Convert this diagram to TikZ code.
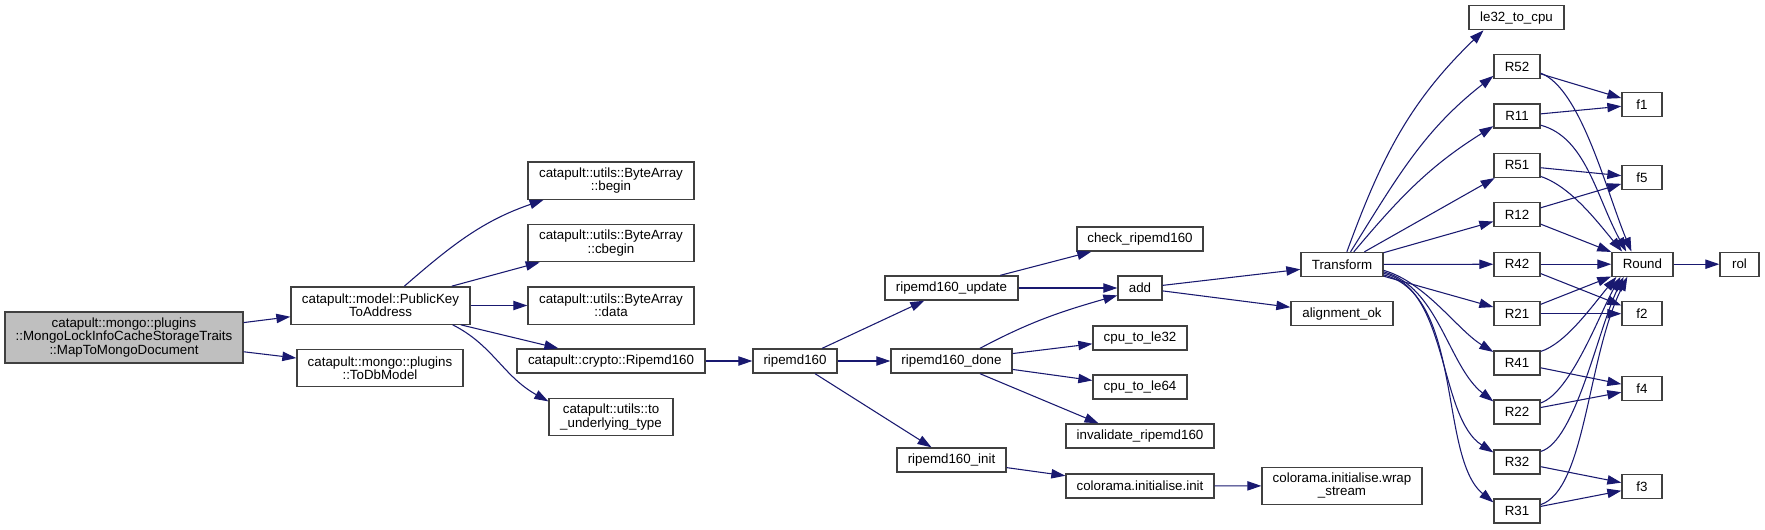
\documentclass[tikz,border=0pt]{standalone}
\usepackage{fontspec}
\setmainfont{Liberation Sans}
\usetikzlibrary{arrows.meta}
\definecolor{edgeblue}{HTML}{191970}
\definecolor{boxline}{HTML}{404040}
\definecolor{boxfill}{HTML}{BFBFBF}

\begin{document}
\begin{tikzpicture}[x=0.75pt, y=-0.75pt,
    fn/.style={draw=boxline, line width=1pt, fill=white, inner sep=0pt, minimum height=18pt, align=center, font=\fontsize{10}{10}\selectfont},
    fntwo/.style={fn, minimum height=28pt},
    call/.style={draw=edgeblue, line width=0.8pt, -{Triangle[length=10.5pt, width=7pt]}}]
    \path[use as bounding box, fill=white] (0,0) rectangle (1765,529);

    \node[fn, fill=boxfill, minimum width=178.5pt, minimum height=38.25pt] (main) at (124,337.5) {catapult::mongo::plugins\\::MongoLockInfoCacheStorageTraits\\::MapToMongoDocument};
    \node[fntwo, minimum width=134.25pt] (pk) at (380.5,305.5) {catapult::model::PublicKey\\ToAddress};
    \node[fntwo, minimum width=124.5pt] (todb) at (380,368) {catapult::mongo::plugins\\::ToDbModel};

    \node[fntwo, minimum width=124.5pt] (begin) at (611,180.5) {catapult::utils::ByteArray\\::begin};
    \node[fntwo, minimum width=124.5pt] (cbegin) at (611,243) {catapult::utils::ByteArray\\::cbegin};
    \node[fntwo, minimum width=124.5pt] (bdata) at (611,305.5) {catapult::utils::ByteArray\\::data};
    \node[fn, minimum width=141pt] (crip) at (611,361) {catapult::crypto::Ripemd160};
    \node[fntwo, minimum width=93pt] (tut) at (611,417) {catapult::utils::to\\\_underlying\_type};

    \node[fn, minimum width=63pt] (rmd) at (795,361) {ripemd160};
    \node[fn, minimum width=99.75pt] (rupd) at (951.5,288) {ripemd160\_update};
    \node[fn, minimum width=90.75pt] (rdone) at (951.5,361) {ripemd160\_done};
    \node[fn, minimum width=81.75pt] (rinit) at (951.5,460) {ripemd160\_init};

    \node[fn, minimum width=94.5pt] (check) at (1140,239) {check\_ripemd160};
    \node[fn, minimum width=33pt] (add) at (1140,288) {add};
    \node[fn, minimum width=70.5pt] (le32) at (1140,338) {cpu\_to\_le32};
    \node[fn, minimum width=70.5pt] (le64) at (1140,387) {cpu\_to\_le64};
    \node[fn, minimum width=111pt] (inval) at (1140,436) {invalidate\_ripemd160};
    \node[fn, minimum width=111pt] (cinit) at (1140,486) {colorama.initialise.init};

    \node[fn, minimum width=61.5pt] (trans) at (1342,264.5) {Transform};
    \node[fn, minimum width=76.5pt] (alignok) at (1342,313.8) {alignment\_ok};
    \node[fntwo, minimum width=120pt, minimum height=27.75pt] (wrap) at (1342,485.8) {colorama.initialise.wrap\\\_stream};

    \node[fn, minimum width=71.25pt] (l2c) at (1516.5,17.7) {le32\_to\_cpu};
    \node[fn, minimum width=34.5pt] (r52) at (1517,66.8) {R52};
    \node[fn, minimum width=34.5pt] (r11) at (1517,116.1) {R11};
    \node[fn, minimum width=34.5pt] (r51) at (1517,165.4) {R51};
    \node[fn, minimum width=34.5pt] (r12) at (1517,214.8) {R12};
    \node[fn, minimum width=34.5pt] (r42) at (1517,264.2) {R42};
    \node[fn, minimum width=34.5pt] (r21) at (1517,313.7) {R21};
    \node[fn, minimum width=34.5pt] (r41) at (1517,363) {R41};
    \node[fn, minimum width=34.5pt] (r22) at (1517,412) {R22};
    \node[fn, minimum width=34.5pt] (r32) at (1517,462) {R32};
    \node[fn, minimum width=34.5pt] (r31) at (1517,511) {R31};

    \node[fn, minimum width=30pt] (f1) at (1642,104.3) {f1};
    \node[fn, minimum width=30pt] (f5) at (1642,177.7) {f5};
    \node[fn, minimum width=45.75pt] (round) at (1642.4,264.2) {Round};
    \node[fn, minimum width=30pt] (f2) at (1642,313.7) {f2};
    \node[fn, minimum width=30pt] (f4) at (1642,388.3) {f4};
    \node[fn, minimum width=30pt] (f3) at (1642,486.7) {f3};
    \node[fn, minimum width=29.25pt] (rol) at (1739.5,264.2) {rol};

    \draw[call] (main) -- (pk);
    \draw[call] (main) -- (todb);

    \draw[call] (pk.39) to[out=41, in=199] (begin.196);
    \draw[call] (pk) -- (cbegin);
    \draw[call] (pk) -- (bdata);
    \draw[call] (pk) -- (crip);
    \draw[call] (pk.-15) .. controls +(40,20) and +(-45,-25) .. (tut.166);

    \draw[call] (crip) -- (rmd);
    \draw[call] (rmd) -- (rupd);
    \draw[call] (rmd) -- (rdone);
    \draw[call] (rmd) -- (rinit);

    \draw[call] (rupd) -- (check);
    \draw[call] (rupd) -- (add);
    \draw[call] (rdone.24) to[out=28, in=196] (add.198);
    \draw[call] (rdone) -- (le32);
    \draw[call] (rdone) -- (le64);
    \draw[call] (rdone.-24) -- (inval.163);
    \draw[call] (rinit) -- (cinit);
    \draw[call] (cinit) -- (wrap);

    \draw[call] (add) -- (trans);
    \draw[call] (add) -- (alignok);

    \draw[call] (trans.69) to[out=70, in=224] (l2c.201);
    \draw[call] (trans.56) to[out=58, in=218] (r52.201);
    \draw[call] (trans.47) to[out=50, in=212] (r11.203);
    \draw[call] (trans) -- (r51);
    \draw[call] (trans) -- (r12);
    \draw[call] (trans) -- (r42);
    \draw[call] (trans) -- (r21);
    \draw[call] (trans.-8) .. controls +(42,12) and +(-36,-22) .. (r41.155);
    \draw[call] (trans.-10) .. controls +(55,15) and +(-45,-35) .. (r22.156);
    \draw[call] (trans.-12) .. controls +(65,15) and +(-55,-35) .. (r32.158);
    \draw[call] (trans.-14) .. controls +(80,20) and +(-55,-45) .. (r31.160);

    \draw[call] (r52) -- (f1);
    \draw[call] (r11) -- (f1);
    \draw[call] (r51) -- (f5);
    \draw[call] (r12) -- (f5);
    \draw[call] (r42) -- (f2);
    \draw[call] (r21) -- (f2);
    \draw[call] (r41) -- (f4);
    \draw[call] (r22) -- (f4);
    \draw[call] (r32) -- (f3);
    \draw[call] (r31) -- (f3);

    \draw[call] (r52.-15) .. controls +(40,15) and +(-25,-60) .. (round.131);
    \draw[call] (r11.-21) .. controls +(45,12) and +(-30,-55) .. (round.142);
    \draw[call] (r51.-25) .. controls +(30,10) and +(-25,-30) .. (round.148);
    \draw[call] (r12) -- (round);
    \draw[call] (r42) -- (round);
    \draw[call] (r21) -- (round);
    \draw[call] (r41.26) .. controls +(25,-8) and +(-25,30) .. (round.206);
    \draw[call] (r22.21) .. controls +(30,-10) and +(-20,35) .. (round.210);
    \draw[call] (r32.24) .. controls +(35,-10) and +(-25,50) .. (round.214);
    \draw[call] (r31.15) .. controls +(45,-15) and +(-40,80) .. (round.220);

    \draw[call] (round) -- (rol);
\end{tikzpicture}
\end{document}
